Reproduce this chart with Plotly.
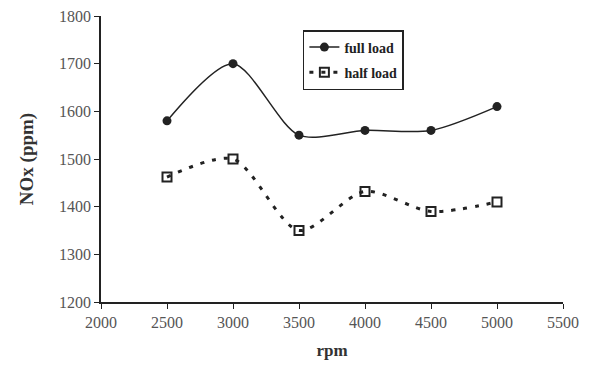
import plotly.graph_objects as go

rpm = [2500, 3000, 3500, 4000, 4500, 5000]
full_load = [1580, 1700, 1550, 1560, 1560, 1610]
half_load = [1462, 1500, 1350, 1432, 1390, 1410]

font_family = "Liberation Serif"

fig = go.Figure()
fig.add_trace(go.Scatter(
    x=rpm, y=full_load, name="full load", mode="lines+markers", legendgroup="a",
    line=dict(color="#222", width=1.5, shape="spline", smoothing=0.8),
    marker=dict(symbol="circle", size=9, color="#222"),
))
fig.add_trace(go.Scatter(
    x=rpm, y=half_load, name="half load", mode="lines+markers", legendgroup="b",
    line=dict(color="#222", width=3, dash="4px,8px", shape="spline", smoothing=0.8),
    marker=dict(symbol="square-open", size=9, color="#222", line=dict(width=2)),
))

fig.update_layout(
    width=585, height=359,
    margin=dict(l=93, r=30, t=8, b=65),
    paper_bgcolor="white", plot_bgcolor="white",
    font=dict(family=font_family, color="#555", size=16),
    legend=dict(
        x=0.437, y=0.951, xanchor="left", yanchor="top",
        bgcolor="white", bordercolor="#222", borderwidth=1.5,
        font=dict(family=font_family, size=14, color="#222", weight="bold"),
        traceorder="grouped", tracegroupgap=4,
    ),
    xaxis=dict(
        range=[2000, 5500], dtick=500, showgrid=False, zeroline=False,
        showline=True, linecolor="#222", linewidth=1.5, automargin=False,
        ticks="outside", ticklen=5, tickcolor="#222", ticklabeloverflow="allow",
        title=dict(text="<b>rpm</b>", font=dict(size=17, color="#333"), standoff=14),
    ),
    yaxis=dict(
        range=[1200, 1800], dtick=100, showgrid=False, zeroline=False,
        showline=True, linecolor="#222", linewidth=1.5, automargin=False,
        ticks="outside", ticklen=5, tickcolor="#222", ticklabeloverflow="allow",
        title=dict(text="<b>NOx (ppm)</b>", font=dict(size=19, color="#333"), standoff=20),
    ),
)

fig.write_html("out.html")
